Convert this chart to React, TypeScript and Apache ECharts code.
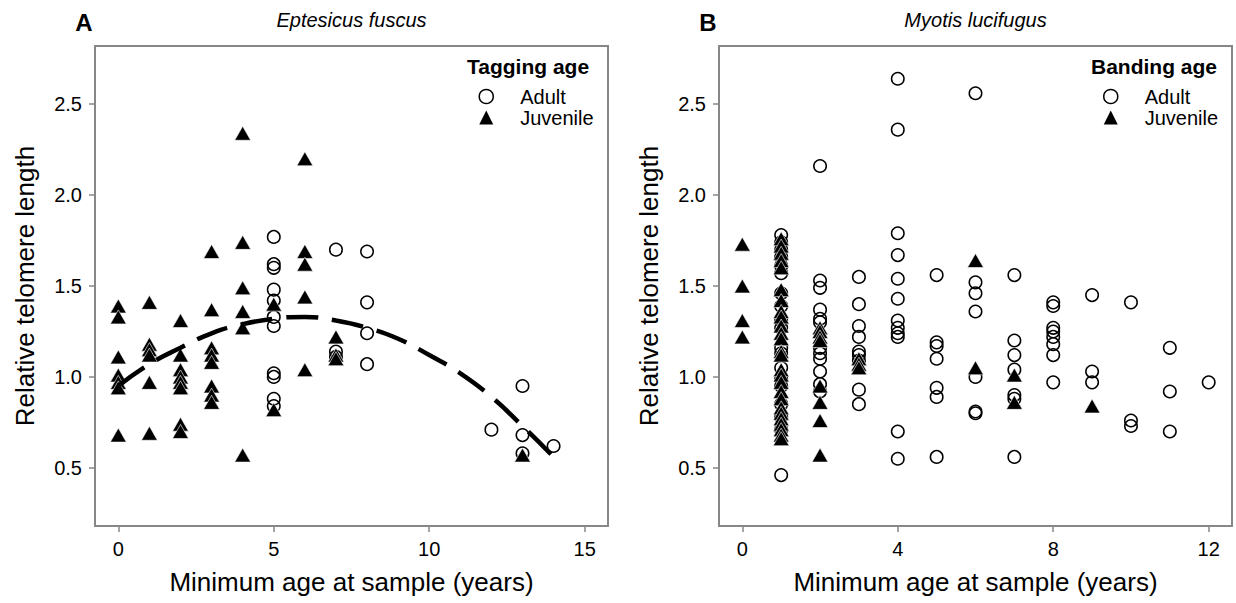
import { useEffect, useRef } from "react";
import * as echarts from "echarts";

// Eptesicus fuscus: [minimum age (years), relative telomere length]
const efAdult: [number, number][] = [
  [5, 1.77], [5, 1.62], [5, 1.6], [5, 1.48], [5, 1.42], [5, 1.33], [5, 1.28], [5, 1.02], [5, 1.0], [5, 0.88], [5, 0.84],
  [7, 1.7], [7, 1.14], [7, 1.11],
  [8, 1.69], [8, 1.41], [8, 1.24], [8, 1.07],
  [12, 0.71],
  [13, 0.95], [13, 0.68], [13, 0.58],
  [14, 0.62],
];
const efJuvenile: [number, number][] = [
  [0, 1.39], [0, 1.33], [0, 1.11], [0, 1.01], [0, 0.97], [0, 0.94], [0, 0.68],
  [1, 1.41], [1, 1.18], [1, 1.15], [1, 1.12], [1, 0.97], [1, 0.69],
  [2, 1.31], [2, 1.12], [2, 1.04], [2, 1.0], [2, 0.97], [2, 0.94], [2, 0.74], [2, 0.7],
  [3, 1.69], [3, 1.37], [3, 1.16], [3, 1.12], [3, 1.08], [3, 0.95], [3, 0.9], [3, 0.86],
  [4, 2.34], [4, 1.74], [4, 1.49], [4, 1.36], [4, 1.27], [4, 0.57],
  [5, 1.4], [5, 0.82],
  [6, 2.2], [6, 1.69], [6, 1.62], [6, 1.44], [6, 1.04],
  [7, 1.22], [7, 1.12], [7, 1.1],
  [13, 0.57],
];
// Quadratic trend for Eptesicus fuscus
const efTrendX = [0, 1, 2, 3, 4, 5, 6, 7, 8, 9, 10, 11, 12, 13, 14];
const efTrendY = [0.95, 1.07, 1.16, 1.24, 1.29, 1.32, 1.33, 1.31, 1.27, 1.21, 1.12, 1.02, 0.89, 0.73, 0.56];

// Myotis lucifugus: [minimum age (years), relative telomere length]
const mlAdult: [number, number][] = [
  [1, 1.78], [1, 1.74], [1, 1.7], [1, 1.66], [1, 1.61], [1, 1.57], [1, 1.46], [1, 1.39], [1, 1.31], [1, 1.27],
  [1, 1.16], [1, 1.13], [1, 1.05], [1, 0.99], [1, 0.95], [1, 0.85], [1, 0.78], [1, 0.71], [1, 0.46],
  [2, 2.16], [2, 1.53], [2, 1.49], [2, 1.37], [2, 1.32], [2, 1.3], [2, 1.16], [2, 1.13], [2, 1.1], [2, 1.03], [2, 0.96], [2, 0.92],
  [3, 1.55], [3, 1.4], [3, 1.28], [3, 1.22], [3, 1.14], [3, 1.12], [3, 1.09], [3, 0.93], [3, 0.85],
  [4, 2.64], [4, 2.36], [4, 1.79], [4, 1.67], [4, 1.54], [4, 1.43], [4, 1.31], [4, 1.27], [4, 1.24], [4, 1.22], [4, 0.7], [4, 0.55],
  [5, 1.56], [5, 1.19], [5, 1.17], [5, 1.1], [5, 0.94], [5, 0.89], [5, 0.56],
  [6, 2.56], [6, 1.52], [6, 1.46], [6, 1.36], [6, 1.0], [6, 0.81], [6, 0.8],
  [7, 1.56], [7, 1.2], [7, 1.12], [7, 1.04], [7, 0.9], [7, 0.88], [7, 0.56],
  [8, 1.41], [8, 1.39], [8, 1.27], [8, 1.25], [8, 1.22], [8, 1.18], [8, 1.12], [8, 0.97],
  [9, 1.45], [9, 1.03], [9, 0.97],
  [10, 1.41], [10, 0.76], [10, 0.73],
  [11, 1.16], [11, 0.92], [11, 0.7],
  [12, 0.97],
];
const mlJuvenile: [number, number][] = [
  [0, 1.73], [0, 1.5], [0, 1.31], [0, 1.22],
  [1, 1.76], [1, 1.72], [1, 1.68], [1, 1.64], [1, 1.6], [1, 1.48], [1, 1.42], [1, 1.36], [1, 1.33], [1, 1.28],
  [1, 1.24], [1, 1.21], [1, 1.14], [1, 1.12], [1, 1.04], [1, 1.01], [1, 0.97], [1, 0.92], [1, 0.88], [1, 0.83],
  [1, 0.8], [1, 0.77], [1, 0.74], [1, 0.71], [1, 0.68], [1, 0.66],
  [2, 1.27], [2, 1.25], [2, 1.22], [2, 1.2], [2, 0.95], [2, 0.86], [2, 0.76], [2, 0.57],
  [3, 1.1], [3, 1.07], [3, 1.05],
  [6, 1.64], [6, 1.05],
  [7, 1.01], [7, 0.86],
  [9, 0.84],
];

const yTicks = [0.5, 1.0, 1.5, 2.0, 2.5];
const efXTicks = [0, 5, 10, 15];
const mlXTicks = [0, 4, 8, 12];

const FONT = "'Liberation Sans', Arial, Helvetica, sans-serif";
const FRAME = "#878787";

const xAxisFor = (gridIndex: number, min: number, max: number, ticks: number[]) => ({
  type: "value",
  gridIndex,
  min,
  max,
  name: "Minimum age at sample (years)",
  nameLocation: "middle",
  nameGap: 43,
  nameTextStyle: { fontFamily: FONT, fontSize: 26, color: "#000" },
  axisLine: { show: true, onZero: false, lineStyle: { color: FRAME, width: 2 } },
  axisTick: { show: true, length: 6, customValues: ticks, lineStyle: { color: FRAME, width: 1.5 } },
  axisLabel: { customValues: ticks, margin: 13, fontFamily: FONT, fontSize: 20, color: "#000" },
  splitLine: { show: false },
});

const yAxisFor = (gridIndex: number) => ({
  type: "value",
  gridIndex,
  min: 0.18,
  max: 2.82,
  name: "Relative telomere length",
  nameLocation: "middle",
  nameGap: 57,
  nameTextStyle: { fontFamily: FONT, fontSize: 26, color: "#000" },
  axisLine: { show: true, onZero: false, lineStyle: { color: FRAME, width: 2 } },
  axisTick: { show: true, length: 6, customValues: yTicks, lineStyle: { color: FRAME, width: 1.5 } },
  axisLabel: {
    customValues: yTicks,
    margin: 13,
    fontFamily: FONT,
    fontSize: 20,
    color: "#000",
    formatter: (v: number) => v.toFixed(1),
  },
  splitLine: { show: false },
});

const adultStyle = { color: "transparent", borderColor: "#000", borderWidth: 1.5, opacity: 1 };
const juvenileStyle = { color: "#000", borderColor: "#fff", borderWidth: 0.6, opacity: 1 };

const legendFor = (left: number) => ({
  left,
  top: 86.5,
  orient: "vertical",
  padding: 0,
  itemWidth: 14,
  itemHeight: 14,
  itemGap: 1,
  selectedMode: false,
  textStyle: { fontFamily: FONT, fontSize: 20, color: "#000", padding: [0, 0, 0, 22] },
  data: [
    { name: "Adult", icon: "circle", itemStyle: { color: "transparent", borderColor: "#000", borderWidth: 1.5, opacity: 1 } },
    { name: "Juvenile", icon: "triangle", itemStyle: { color: "#000", borderWidth: 0, opacity: 1 } },
  ],
});

const scatter = (name: string, idx: number, data: [number, number][], adult: boolean) => ({
  type: "scatter",
  name,
  xAxisIndex: idx,
  yAxisIndex: idx,
  data,
  symbol: adult ? "circle" : "triangle",
  symbolSize: adult ? 12.5 : [16, 14],
  itemStyle: adult ? adultStyle : juvenileStyle,
  silent: true,
});

const label = (text: string, x: number, y: number, font: string, align = "center") => ({
  type: "text",
  x,
  y,
  silent: true,
  style: { text, font, fill: "#000", textAlign: align, textVerticalAlign: "middle" },
});

export default function App() {
  const ref = useRef<HTMLDivElement>(null);

  useEffect(() => {
    if (!ref.current) return;
    const chart = echarts.init(ref.current, undefined, { renderer: "svg" });
    chart.setOption({
      animation: false,
      backgroundColor: "#fff",
      grid: [
        { left: 95, top: 46, width: 513, height: 480, show: true, borderColor: FRAME, borderWidth: 2 },
        { left: 719, top: 46, width: 513, height: 480, show: true, borderColor: FRAME, borderWidth: 2 },
      ],
      xAxis: [xAxisFor(0, -0.75, 15.75, efXTicks), xAxisFor(1, -0.6, 12.6, mlXTicks)],
      yAxis: [yAxisFor(0), yAxisFor(1)],
      legend: [legendFor(478.5), legendFor(1103)],
      graphic: [
        label("A", 84, 22, `bold 24px ${FONT}`),
        label("B", 708, 22, `bold 24px ${FONT}`),
        label("Eptesicus fuscus", 351.5, 20, `italic 20px ${FONT}`),
        label("Myotis lucifugus", 975.5, 20, `italic 20px ${FONT}`),
        label("Tagging age", 467, 66, `bold 21px ${FONT}`, "left"),
        label("Banding age", 1091, 66, `bold 21px ${FONT}`, "left"),
      ],
      series: [
        scatter("Adult", 0, efAdult, true),
        scatter("Juvenile", 0, efJuvenile, false),
        scatter("Adult", 1, mlAdult, true),
        scatter("Juvenile", 1, mlJuvenile, false),
        {
          type: "line",
          name: "Trend",
          xAxisIndex: 0,
          yAxisIndex: 0,
          data: efTrendX.map((x, i) => [x, efTrendY[i]]),
          smooth: true,
          symbol: "none",
          silent: true,
          z: 5,
          lineStyle: { color: "#000", width: 4.5, type: [32, 14], cap: "butt" },
        },
      ],
    });
    return () => chart.dispose();
  }, []);

  return <div ref={ref} style={{ position: "absolute", left: 0, top: 0, width: 1236, height: 603 }} />;
}
